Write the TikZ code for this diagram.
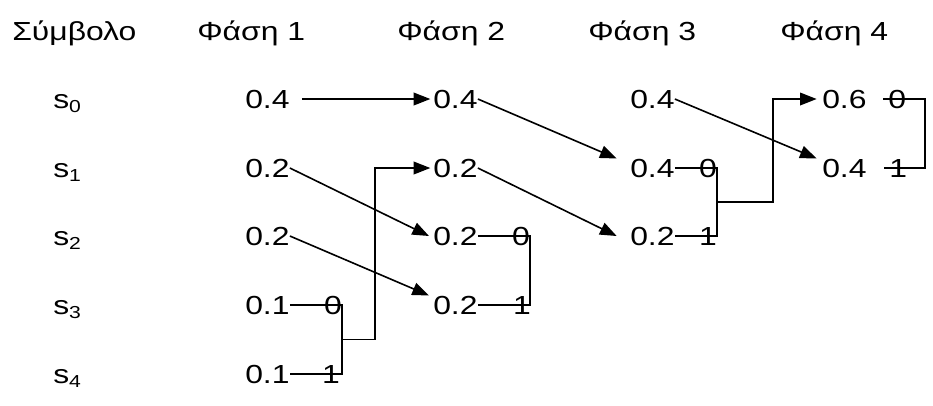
\documentclass[tikz,border=0pt]{standalone}
\usepackage{fontspec}
\setmainfont{Liberation Sans}[FakeStretch=1.22]
\usepackage{tikz}
\usetikzlibrary{arrows.meta}
\usetikzlibrary{calc}

\newcommand{\txt}{\fontsize{19.6}{23}\selectfont}
\newcommand{\idx}[1]{\raisebox{-3pt}{\fontsize{13}{15}\selectfont #1}}

\tikzstyle{val} = [inner sep=0pt, anchor=base west, font=\txt]
\tikzstyle{bit} = [inner sep=0pt, anchor=base east, font=\txt]
\tikzstyle{line} = [line width=1.2pt, black]
\tikzstyle{arrow} = [line, -{Triangle[length=12.5pt,width=9.5pt]}]

\begin{document}
\begin{tikzpicture}[x=0.75pt, y=-0.75pt]
    \useasboundingbox (0,0) rectangle (933,405);
    % headings
    \node (h0) [val] at (12,40) {Σύμβολο};
    \node (h1) [val] at (197,40) {Φάση 1};
    \node (h2) [val] at (397,40) {Φάση 2};
    \node (h3) [val] at (588,40) {Φάση 3};
    \node (h4) [val] at (780,40) {Φάση 4};
    % symbols
    \node (s0) [val] at (53,108) {s\idx{0}};
    \node (s1) [val] at (53,177) {s\idx{1}};
    \node (s2) [val] at (53,245) {s\idx{2}};
    \node (s3) [val] at (53,314) {s\idx{3}};
    \node (s4) [val] at (53,383) {s\idx{4}};
    % phase 1
    \node (f10) [val] at (245,108) {0.4};
    \node (f11) [val] at (245,177) {0.2};
    \node (f12) [val] at (245,245) {0.2};
    \node (f13) [val] at (245,314) {0.1};
    \node (f14) [val] at (245,383) {0.1};
    \node (b13) [bit] at (342,314) {0};
    \node (b14) [bit] at (340,383) {1};
    % phase 2
    \node (f20) [val] at (433,108) {0.4};
    \node (f21) [val] at (433,177) {0.2};
    \node (f22) [val] at (433,245) {0.2};
    \node (f23) [val] at (433,314) {0.2};
    \node (b22) [bit] at (530,245) {0};
    \node (b23) [bit] at (531,314) {1};
    % phase 3
    \node (f30) [val] at (630,108) {0.4};
    \node (f31) [val] at (630,177) {0.4};
    \node (f32) [val] at (630,245) {0.2};
    \node (b31) [bit] at (717,177) {0};
    \node (b32) [bit] at (717,245) {1};
    % phase 4
    \node (f40) [val] at (822,108) {0.6};
    \node (f41) [val] at (822,177) {0.4};
    \node (b40) [val, inner xsep=3.75pt] at (883,108) {0};
    \node (b41) [val, inner xsep=3.75pt] at (884,177) {1};

    \coordinate (j1) at (375,0);
    \coordinate (j3) at (773,0);
    \coordinate (j4) at (925,0);

    % phase 1 -> phase 2
    \draw [arrow] ([xshift=9pt]f10.east) -- ([xshift=-2pt]f20.west);
    \draw [arrow] (f11.east) -- ([xshift=-3pt]f22.west);
    \draw [arrow] (f12.east) -- ([xshift=-3pt]f23.north west);
    \draw [line] (f13.east) -- (f13.east -| b13.east) -- (f14.east -| b13.east) -- (f14.east);
    \coordinate (m1) at ($(f13.east -| b13.east)!0.5!(f14.east -| b13.east)$);
    \draw [arrow] (m1) -- (m1 -| j1) |- ([xshift=-2pt]f21.west);

    % phase 2 -> phase 3
    \draw [arrow] (f20.east) -- ([xshift=-10pt]f31.north west);
    \draw [arrow] (f21.east) -- ([xshift=-10pt]f32.west);
    \draw [line] (f22.east) -- (f22.east -| b22.east) -- (f23.east -| b22.east) -- (f23.east);

    % phase 3 -> phase 4
    \draw [arrow] (f30.east) -- ([xshift=-4pt]f41.north west);
    \draw [line] (f31.east) -- (f31.east -| b31.east) -- (f32.east -| b31.east) -- (f32.east);
    \coordinate (m3) at ($(f31.east -| b31.east)!0.5!(f32.east -| b31.east)$);
    \draw [arrow] (m3) -- (m3 -| j3) |- ([xshift=-4pt]f40.west);

    % phase 4
    \draw [line] (b40.west) -- (b40.west -| j4) -- (b41.west -| j4) -- (b41.west);
\end{tikzpicture}
\end{document}
